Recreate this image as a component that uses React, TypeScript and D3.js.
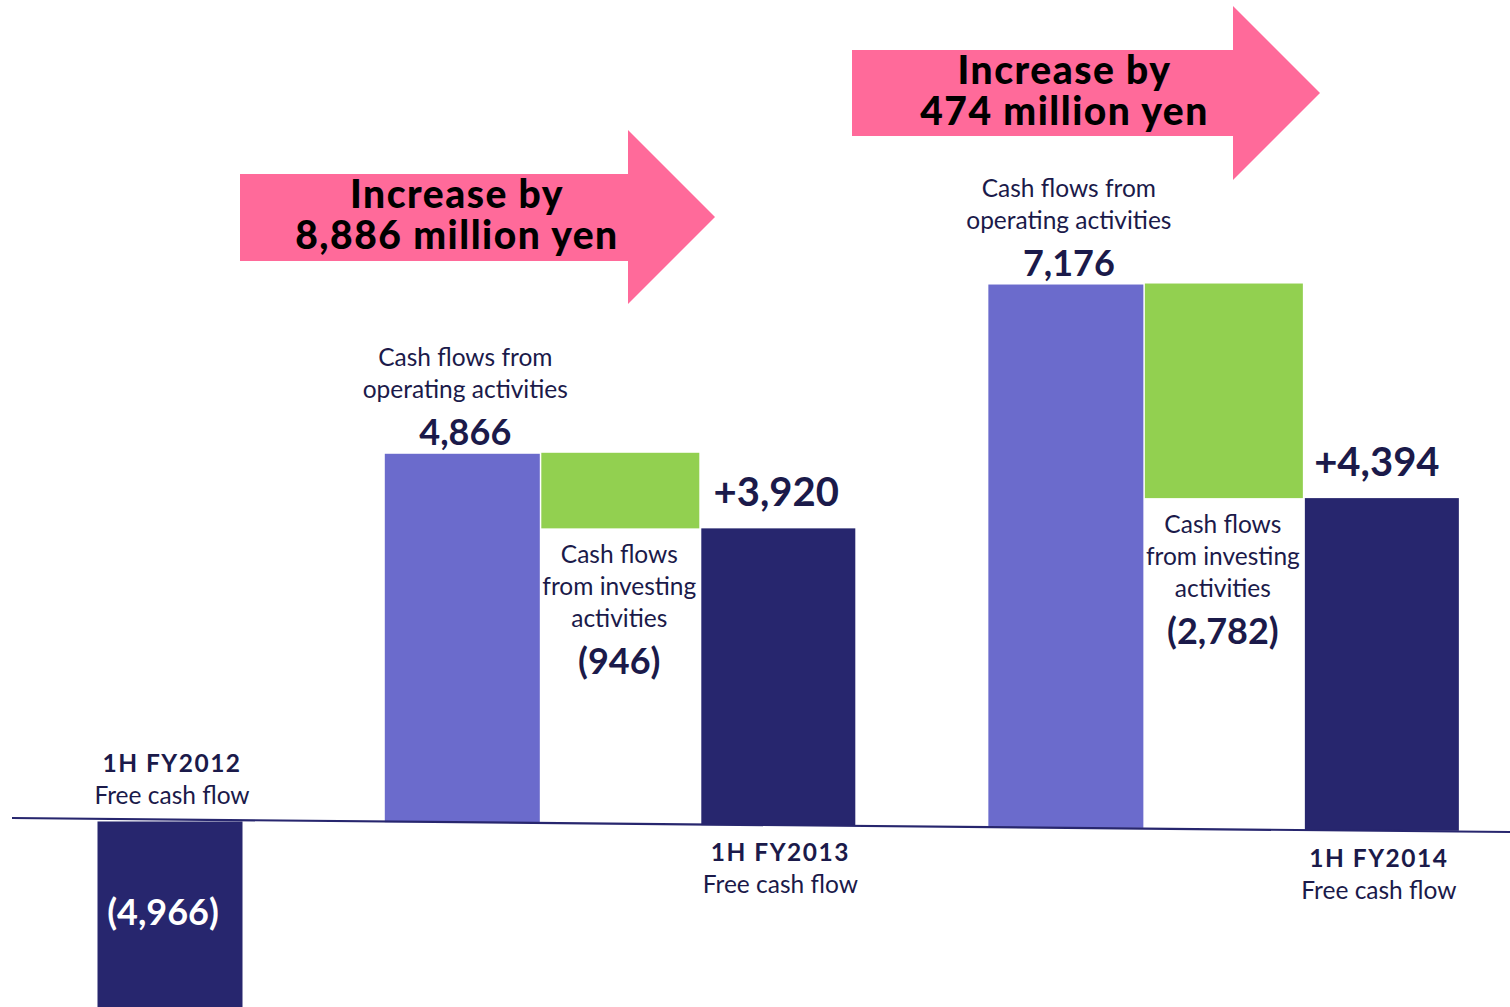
import React from "react";
import * as d3 from "d3";

// ---- data ----
const periods = ["1H FY2012", "1H FY2013", "1H FY2014"];
const freeCashFlow = [-4966, 3920, 4394];
const operatingCF = [4866, 7176];
const investingCF = [-946, -2782];
const increases = [8886, 474];

const W = 1510;
const H = 1007;
const NAVY = "#27266E";
const TEXT = "#1B1A4A";
const LAV = "#6B6BCC";
const GREEN = "#92D050";
const PINK = "#FF6A9A";
const FONT = "Lato, 'Open Sans', sans-serif";

const fmt = (v: number) => d3.format(",")(Math.abs(v));
const fmtSigned = (v: number) => (v < 0 ? `(${fmt(v)})` : fmt(v));

export default function App() {
  // tilted baseline
  const baseX0 = 12, baseX1 = 1510, baseY0 = 818, baseY1 = 832;
  const baseY = d3.scaleLinear().domain([baseX0, baseX1]).range([baseY0, baseY1]);
  const h = d3.scaleLinear().domain([0, 7000]).range([0, 530]);
  // slot positions -> x centres
  const x = d3.scaleLinear().domain([0, 1]).range([170, 328]);
  const fcfSlots = [0, 3.85, 7.67];
  const opSlots = [1.85, 5.67];
  const invSlots = [2.85, 6.67];

  const bars: { x0: number; x1: number; y0: number; y1: number; fill: string }[] = [];

  const fcfGeom = freeCashFlow.map((v, i) => {
    const cx = x(fcfSlots[i]);
    const w = i === 0 ? 145 : 154;
    const b = baseY(cx);
    const top = v >= 0 ? b - h(v) : b + 2;
    const bot = v >= 0 ? b : b + h(-v);
    bars.push({ x0: cx - w / 2, x1: cx + w / 2, y0: top, y1: bot, fill: NAVY });
    return { cx, top, bot, b };
  });
  const opGeom = operatingCF.map((v, i) => {
    const cx = x(opSlots[i]);
    const w = 155;
    const b = baseY(cx);
    const top = b - h(v);
    bars.push({ x0: cx - w / 2, x1: cx + w / 2, y0: top, y1: b, fill: LAV });
    return { cx, top, b };
  });
  const invGeom = investingCF.map((v, i) => {
    const cx = x(invSlots[i]);
    const w = 158;
    const top = opGeom[i].top - 1;
    const bot = fcfGeom[i + 1].top;
    bars.push({ x0: cx - w / 2, x1: cx + w / 2, y0: top, y1: bot, fill: GREEN });
    return { cx, top, bot };
  });

  // arrows
  const arrows = [
    { x0: 240, x1: 628, tip: 715, top: 174, bot: 261, htop: 130, hbot: 304 },
    { x0: 852, x1: 1233, tip: 1320, top: 50, bot: 136, htop: 6, hbot: 180 },
  ];
  const arrowPath = (a: typeof arrows[number]) => {
    const p = d3.path();
    const mid = (a.htop + a.hbot) / 2;
    p.moveTo(a.x0, a.top);
    p.lineTo(a.x1, a.top);
    p.lineTo(a.x1, a.htop);
    p.lineTo(a.tip, mid);
    p.lineTo(a.x1, a.hbot);
    p.lineTo(a.x1, a.bot);
    p.lineTo(a.x0, a.bot);
    p.closePath();
    return p.toString();
  };

  const small = 24.5;
  return (
    <svg
      width={W}
      height={H}
      style={{ position: "absolute", left: 0, top: 0, display: "block", background: "#fff" }}
      fontFamily={FONT}
    >
      {bars.map((r, i) => (
        <rect key={i} x={r.x0} y={r.y0} width={r.x1 - r.x0} height={Math.max(0, r.y1 - r.y0)} fill={r.fill} />
      ))}
      <line x1={baseX0} y1={baseY0} x2={baseX1} y2={baseY1} stroke={NAVY} strokeWidth={2.2} />

      {arrows.map((a, i) => {
        const cx = (a.x0 + a.x1) / 2 + (i === 0 ? 23 : 22);
        return (
          <g key={i}>
            <path d={arrowPath(a)} fill={PINK} />
            <text textAnchor="middle" fontSize={39} fontWeight={900} letterSpacing={1.5} fill="#000">
              <tspan x={cx} y={a.top + 34}>Increase by</tspan>
              <tspan x={cx} y={a.top + 75}>{`${fmt(increases[i])} million yen`}</tspan>
            </text>
          </g>
        );
      })}

      {/* operating labels */}
      {opGeom.map((g, i) => (
        <g key={i} fill={TEXT} textAnchor="middle">
          <text x={g.cx + 3} y={g.top - 88} fontSize={small}>Cash flows from</text>
          <text x={g.cx + 3} y={g.top - 56} fontSize={small}>operating activities</text>
          <text x={g.cx + 3} y={g.top - 9} fontSize={36} fontWeight={700}>{fmt(operatingCF[i])}</text>
        </g>
      ))}

      {/* investing labels */}
      {invGeom.map((g, i) => (
        <g key={i} fill={TEXT} textAnchor="middle">
          <text x={g.cx - 1} y={g.bot + 35} fontSize={small}>Cash flows</text>
          <text x={g.cx - 1} y={g.bot + 67} fontSize={small}>from investing</text>
          <text x={g.cx - 1} y={g.bot + 99} fontSize={small}>activities</text>
          <text x={g.cx - 1} y={g.bot + 146} fontSize={36} fontWeight={700}>{fmtSigned(investingCF[i])}</text>
        </g>
      ))}

      {/* FCF values */}
      {fcfGeom.map((g, i) =>
        freeCashFlow[i] < 0 ? (
          <text key={i} x={g.cx - 7} y={g.b + 106} textAnchor="middle" fontSize={36} fontWeight={700} fill="#fff">
            {fmtSigned(freeCashFlow[i])}
          </text>
        ) : (
          <text key={i} x={g.cx - (i === 2 ? 5 : 2)} y={g.top - 22} textAnchor="middle" fontSize={40} fontWeight={700} fill={TEXT}>
            {`+${fmt(freeCashFlow[i])}`}
          </text>
        )
      )}

      {/* period labels */}
      {fcfGeom.map((g, i) => {
        const above = freeCashFlow[i] < 0;
        const y1 = above ? g.b - 47 : g.b + 36;
        const dx = i === 2 ? -3 : 2;
        return (
          <g key={i} fill={TEXT} textAnchor="middle">
            <text x={g.cx + dx} y={y1} fontSize={small} fontWeight={700} letterSpacing={1.5}>{periods[i]}</text>
            <text x={g.cx + dx} y={y1 + 32} fontSize={small}>Free cash flow</text>
          </g>
        );
      })}
    </svg>
  );
}
